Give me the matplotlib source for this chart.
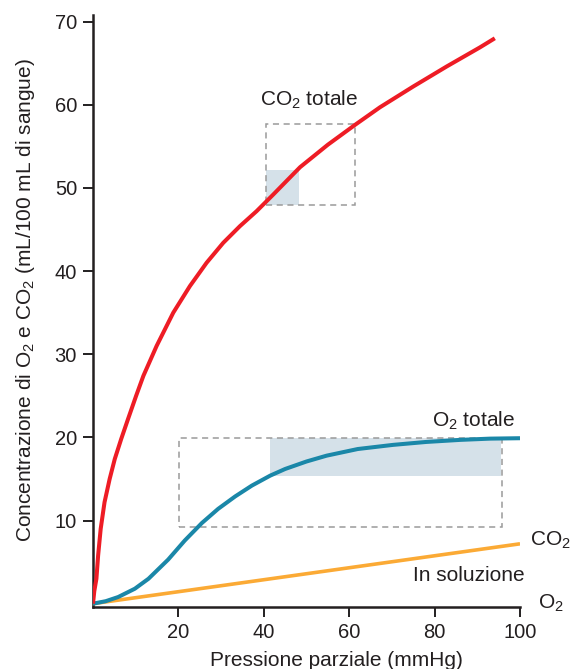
import matplotlib
matplotlib.use("Agg")
import matplotlib.pyplot as plt
from matplotlib.patches import Rectangle

plt.rcParams["font.family"] = ["Liberation Sans", "DejaVu Sans"]
plt.rcParams["mathtext.default"] = "regular"

# ── Data ────────────────────────────────────────────────────────────────────
co2_x = [0, 0.3, 0.8, 1.2, 1.8, 2.7, 3.9, 5.1, 6.6, 8.2, 10.1, 11.8, 14.9,
         18.8, 22.7, 26.6, 30.5, 34.4, 38.3, 42.2, 48.5, 55, 61.4, 67.2, 75,
         82.8, 90.6, 94.1]
co2_y = [0, 1.5, 3.0, 5.8, 9.0, 12.2, 15.0, 17.4, 19.8, 22.2, 25.0, 27.4, 31.0,
         35.0, 38.2, 41.0, 43.4, 45.4, 47.2, 49.2, 52.5, 55.2, 57.6, 59.7, 62.2,
         64.6, 66.9, 68.0]

o2_x = [0, 3, 5.9, 9.8, 13.0, 17.6, 21.5, 25.5, 29.3, 33.3, 37.2, 41.5, 45,
        50, 54.7, 62, 70.3, 78, 86, 93, 100]
o2_y = [0, 0.3, 0.8, 1.8, 3.0, 5.3, 7.6, 9.7, 11.4, 12.9, 14.2, 15.4, 16.2,
        17.1, 17.8, 18.6, 19.1, 19.45, 19.7, 19.85, 19.9]

sol_x = [0, 100]
sol_y = [0, 7.2]

# dashed boxes: (x0, x1, y0, y1)
co2_box = (40.4, 61.4, 47.9, 57.7)
o2_box = (20.2, 95.7, 9.2, 19.9)
# shaded regions
co2_shade = (40.4, 48.3, 47.9, 52.1)
o2_shade = (41.5, 95.5, 15.3, 19.9)

x_ticks = [20, 40, 60, 80, 100]
y_ticks = [10, 20, 30, 40, 50, 60, 70]

RED = "#EE1C25"
BLUE = "#1A87A8"
ORANGE = "#FBAA35"
SHADE = "#D5E1E9"
DASH = "#9A9A9A"
DARK = "#231F20"

fig = plt.figure(figsize=(5.71, 6.69), dpi=100)
ax = fig.add_axes([93 / 571, 1 - 607 / 669, 427 / 571, 592 / 669])

for (x0, x1, y0, y1) in (co2_shade, o2_shade):
    ax.add_patch(Rectangle((x0, y0), x1 - x0, y1 - y0, facecolor=SHADE,
                           edgecolor="none", zorder=1))
for (x0, x1, y0, y1) in (co2_box, o2_box):
    ax.add_patch(Rectangle((x0, y0), x1 - x0, y1 - y0, facecolor="none",
                           edgecolor=DASH, lw=1.1, ls=(0, (4, 3)), zorder=2))

line_kw = dict(solid_capstyle="butt", solid_joinstyle="round")
ax.plot(sol_x, sol_y, color=ORANGE, lw=2.6, zorder=3, **line_kw)
ax.plot(o2_x, o2_y, color=BLUE, lw=2.9, zorder=4, **line_kw)
ax.plot(co2_x, co2_y, color=RED, lw=2.9, zorder=5, **line_kw)

ax.set_xlim(0, 100)
ax.set_ylim(-0.4, 70.8)
ax.set_xticks(x_ticks)
ax.set_yticks(y_ticks)

for s in ("top", "right"):
    ax.spines[s].set_visible(False)
for s in ("left", "bottom"):
    ax.spines[s].set_linewidth(1.8)
    ax.spines[s].set_color(DARK)
ax.tick_params(direction="out", length=7.5, width=1.4, color=DARK,
               labelsize=14.5, labelcolor=DARK, pad=4)

ax.set_xlabel("Pressione parziale (mmHg)", fontsize=15, color=DARK)
ax.xaxis.set_label_coords(0.569, -0.074)
ax.set_ylabel("Concentrazione di O$_2$ e CO$_2$ (mL/100 mL di sangue)",
              fontsize=15, color=DARK)
ax.yaxis.set_label_coords(-0.13, 0.518)

txt = dict(fontsize=15, color=DARK, clip_on=False)
ax.text(50.5, 60.6, "CO$_2$ totale", ha="center", va="center", **txt)
ax.text(89.2, 22.0, "O$_2$ totale", ha="center", va="center", **txt)
ax.text(102.3, 7.6, "CO$_2$", ha="left", va="center", **txt)
ax.text(88, 3.4, "In soluzione", ha="center", va="center", **txt)
ax.text(104.2, 0.0, "O$_2$", ha="left", va="center", **txt)

fig.savefig("out.png", dpi=100, facecolor="white")
